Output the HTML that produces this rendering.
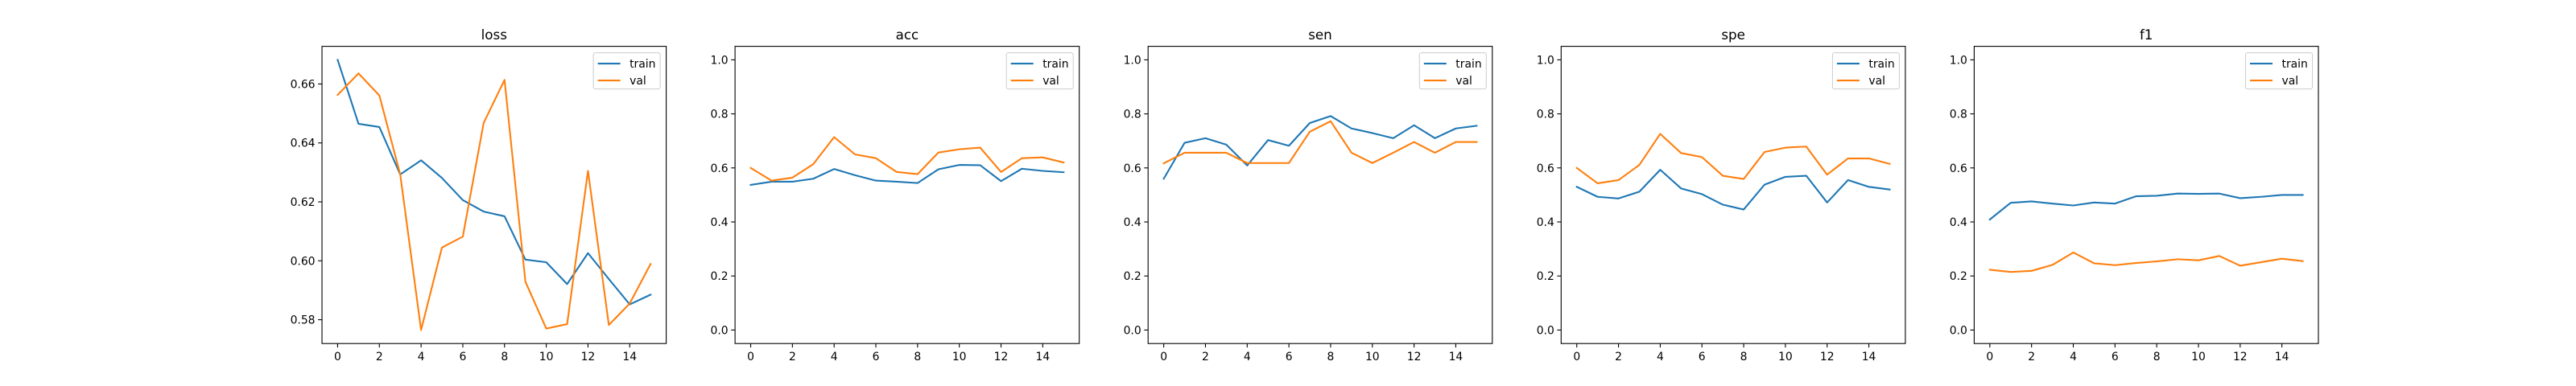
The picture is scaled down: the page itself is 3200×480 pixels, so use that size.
<!DOCTYPE html>
<html><head><meta charset="utf-8"><style>
html,body{margin:0;padding:0;background:#fff;}
svg{display:block;font-family:"DejaVu Sans","Liberation Sans",sans-serif;}
</style></head><body>
<svg id="fig" width="3200" height="480" viewBox="0 0 3200 480" xmlns="http://www.w3.org/2000/svg"></svg>
<script>
const epochs = [0,1,2,3,4,5,6,7,8,9,10,11,12,13,14,15];
const xTicks = [0,2,4,6,8,10,12,14];
const titles = ["loss","acc","sen","spe","f1"];
const lossTrain = [0.6682,0.6465,0.6454,0.6293,0.6341,0.6281,0.6206,0.6167,0.6151,0.6004,0.5995,0.5921,0.6026,0.5938,0.5852,0.5885];
const lossVal = [0.6563,0.6636,0.6561,0.6293,0.5765,0.6045,0.6082,0.6468,0.6614,0.5929,0.5770,0.5785,0.6305,0.5782,0.5855,0.5989];
const accTrain = [0.537,0.549,0.549,0.560,0.596,0.573,0.553,0.549,0.544,0.595,0.611,0.610,0.551,0.597,0.589,0.584];
const accVal = [0.600,0.553,0.564,0.614,0.714,0.650,0.636,0.585,0.577,0.657,0.669,0.675,0.585,0.636,0.639,0.620];
const senTrain = [0.560,0.693,0.710,0.686,0.609,0.703,0.682,0.766,0.792,0.746,0.729,0.710,0.758,0.710,0.746,0.756];
const senVal = [0.617,0.656,0.656,0.656,0.618,0.618,0.618,0.734,0.773,0.656,0.618,0.656,0.696,0.656,0.696,0.696];
const speTrain = [0.530,0.493,0.487,0.512,0.593,0.524,0.503,0.464,0.446,0.538,0.567,0.571,0.472,0.555,0.530,0.520];
const speVal = [0.600,0.543,0.555,0.611,0.726,0.655,0.640,0.571,0.559,0.659,0.675,0.679,0.575,0.635,0.635,0.615];
const f1Train = [0.409,0.471,0.476,0.468,0.461,0.472,0.468,0.495,0.497,0.505,0.504,0.505,0.488,0.493,0.500,0.500];
const f1Val = [0.223,0.215,0.219,0.241,0.287,0.247,0.240,0.248,0.254,0.262,0.258,0.274,0.238,0.251,0.264,0.255];
const lossYTicks = [0.58,0.60,0.62,0.64,0.66];
const lossYLabels = ["0.58","0.60","0.62","0.64","0.66"];
const unitYTicks = [0.0,0.2,0.4,0.6,0.8,1.0];
const unitYLabels = ["0.0","0.2","0.4","0.6","0.8","1.0"];
const seriesLabels = ["train","val"];

const NS = "http://www.w3.org/2000/svg";
const svg = document.getElementById("fig");
function mk(tag, attrs, parent){const e=document.createElementNS(NS,tag);for(const k in attrs)e.setAttribute(k,attrs[k]);(parent||svg).appendChild(e);return e;}

const panels = [
 {tr:lossTrain, va:lossVal, yt:lossYTicks, yl:lossYLabels, fixed:null},
 {tr:accTrain, va:accVal, yt:unitYTicks, yl:unitYLabels, fixed:[-0.05,1.05]},
 {tr:senTrain, va:senVal, yt:unitYTicks, yl:unitYLabels, fixed:[-0.05,1.05]},
 {tr:speTrain, va:speVal, yt:unitYTicks, yl:unitYLabels, fixed:[-0.05,1.05]},
 {tr:f1Train, va:f1Val, yt:unitYTicks, yl:unitYLabels, fixed:[-0.05,1.05]}
];
const AW = 427.6, AH = 369.6, TOP = 57.6, STEP = 513.1, LEFT0 = 400;
const colors = ["#1f77b4","#ff7f0e"];

panels.forEach((p, i) => {
  const L = LEFT0 + i*STEP;
  const g = mk("g", {});
  
  
  let y0, y1;
  if (p.fixed) { y0 = p.fixed[0]; y1 = p.fixed[1]; }
  else {
    const all = p.tr.concat(p.va);
    const mn = Math.min(...all), mx = Math.max(...all), r = mx - mn;
    y0 = mn - 0.05*r; y1 = mx + 0.05*r;
  }
  const xmin = Math.min(...epochs), xmax = Math.max(...epochs), xr = xmax - xmin;
  const x0 = xmin - 0.05*xr, x1 = xmax + 0.05*xr;
  const sx = v => L + (v - x0)/(x1 - x0)*AW;
  const sy = v => TOP + AH - (v - y0)/(y1 - y0)*AH;

  const t = mk("text", {x: L + AW/2, y: 49, "text-anchor":"middle", "font-size":"16.7", fill:"#000"}, g);
  t.textContent = titles[i];
  
  

  // series
  [p.tr, p.va].forEach((arr, k) => {
    const d = arr.map((v, j) => (j ? "L" : "M") + sx(epochs[j]).toFixed(2) + " " + sy(v).toFixed(2)).join(" ");
    const path = mk("path", {d, fill:"none", stroke:colors[k], "stroke-width":"2.1", "stroke-linejoin":"round", "stroke-linecap":"square"}, g);
    
    
  });

  // frame
  const fr = mk("rect", {x:L, y:TOP, width:AW, height:AH, fill:"none", stroke:"#000", "stroke-width":"1.1"}, g);
  
  

  // x ticks
  xTicks.forEach(v => {
    const x = sx(v);
    const tk = mk("line", {x1:x, x2:x, y1:TOP+AH, y2:TOP+AH+4.9, stroke:"#000", "stroke-width":"1.1"}, g);
    
    
    const lb = mk("text", {x, y:TOP+AH+21, "text-anchor":"middle", "font-size":"13.9", fill:"#000"}, g);
    lb.textContent = String(v);
    
    
  });
  // y ticks
  p.yt.forEach((v, j) => {
    const y = sy(v);
    const tk = mk("line", {x1:L-4.9, x2:L, y1:y, y2:y, stroke:"#000", "stroke-width":"1.1"}, g);
    
    
    const lb = mk("text", {x:L-8.5, y:y+5, "text-anchor":"end", "font-size":"13.9", fill:"#000"}, g);
    lb.textContent = p.yl[j];
    
    
  });

  // legend
  const lg = mk("g", {}, g);
  
  
  const lx = L + AW - 90.5, ly = TOP + 8;
  mk("rect", {x:lx, y:ly, width:83, height:45, rx:2.5, fill:"#fff", "fill-opacity":"0.8", stroke:"#ccc", "stroke-width":"1"}, lg);
  seriesLabels.forEach((s, k) => {
    const yy = ly + 13.5 + k*21;
    const ln = mk("line", {x1:lx+5.5, x2:lx+33.5, y1:yy, y2:yy, stroke:colors[k], "stroke-width":"2.1"}, lg);
    
    
    const tx = mk("text", {x:lx+45, y:yy+5, "font-size":"13.9", fill:"#000"}, lg);
    tx.textContent = s;
    
    
  });
});
</script>
</body></html>
